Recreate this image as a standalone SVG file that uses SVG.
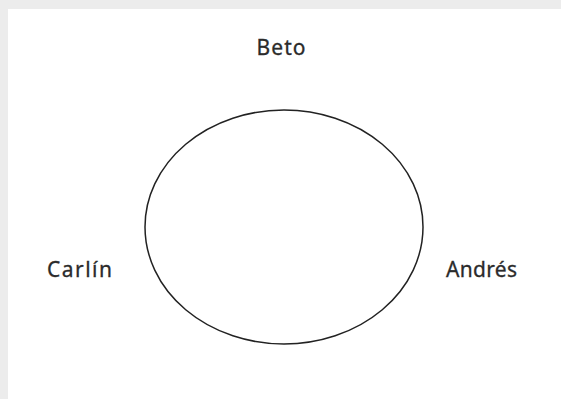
<svg xmlns="http://www.w3.org/2000/svg" width="561" height="399" viewBox="0 0 561 399">
<style>
.lbl{font-family:"Noto Sans","Open Sans",sans-serif;font-size:21px;fill:#2b2b2b;stroke:#2b2b2b;stroke-width:0.3;}
</style>
<rect x="0" y="0" width="561" height="399" fill="#ececec"/>
<rect x="8" y="9" width="553" height="390" fill="#ffffff"/>
<g id="circle"><ellipse cx="284" cy="227" rx="139" ry="117" fill="none" stroke="#222" stroke-width="1.5"/></g>
<g id="connectors"></g>
<g id="beto"><text class="lbl" x="281" y="55" text-anchor="middle" textLength="49">Beto</text></g>
<g id="carlin"><text class="lbl" x="47" y="277" textLength="65">Carlín</text></g>
<g id="andres"><text class="lbl" x="446" y="277" textLength="71">Andrés</text></g>
</svg>
